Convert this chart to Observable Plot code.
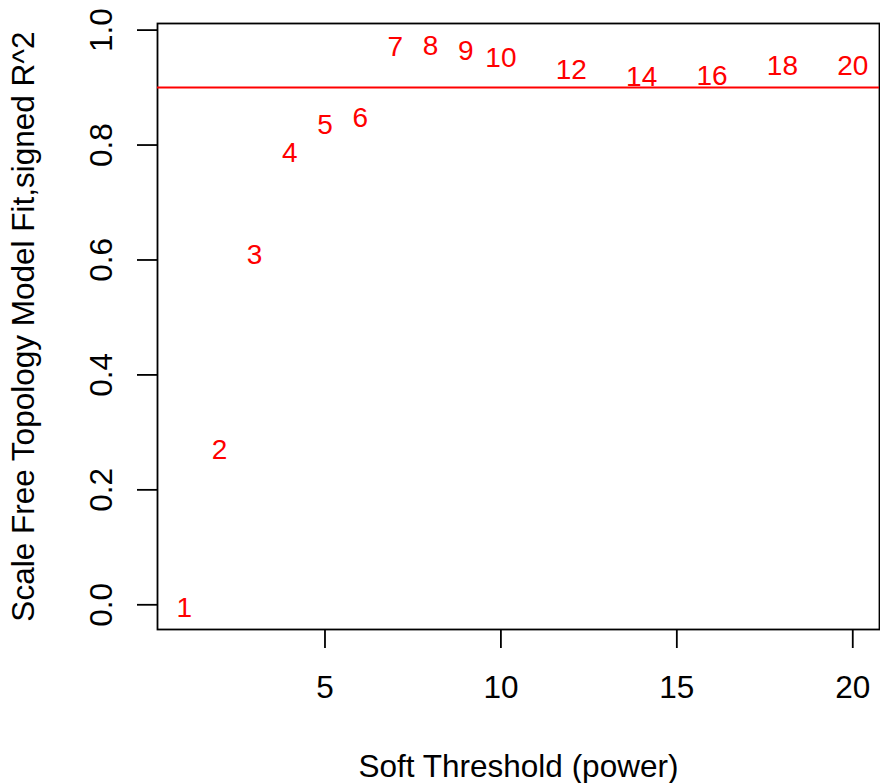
<!DOCTYPE html>
<html>
<head>
<meta charset="utf-8">
<script src="https://cdn.jsdelivr.net/npm/d3@7"></script>
<script src="https://cdn.jsdelivr.net/npm/@observablehq/plot@0.6"></script>
<style>
  html, body { margin: 0; padding: 0; background: #fff; }
  #chart svg { display: block; }
</style>
</head>
<body>
<div id="chart"></div>
<script>
// Soft-threshold powers and the signed scale-free topology fit (R^2)
const powers = [1, 2, 3, 4, 5, 6, 7, 8, 9, 10, 12, 14, 16, 18, 20];
const fitR2 = [-0.006, 0.270, 0.609, 0.786, 0.834, 0.847, 0.970, 0.972, 0.964, 0.951, 0.930, 0.919, 0.920, 0.937, 0.937];
const cutoff = [0.9];
const xTicks = [5, 10, 15, 20];
const yTicks = [0, 0.2, 0.4, 0.6, 0.8, 1.0];
const yTickLabels = ["0.0", "0.2", "0.4", "0.6", "0.8", "1.0"];
const xTitle = "Soft Threshold (power)";
const yTitle = "Scale Free Topology Model Fit,signed R^2";

const data = powers.map((p, i) => ({power: p, r2: fitR2[i]}));
const yTickData = yTicks.map((v, i) => ({v, label: yTickLabels[i]}));

const FONT = "'Liberation Sans', Arial, Helvetica, sans-serif";
const AXIS_FS = 31.5;

const chart = Plot.plot({
  width: 880,
  height: 783,
  marginLeft: 157,
  marginRight: 1,
  marginTop: 23,
  marginBottom: 154,
  style: {fontFamily: FONT, background: "#fff"},
  x: {domain: [0.24, 20.76], axis: null},
  y: {domain: [-0.043, 1.0115], axis: null},
  marks: [
    Plot.frame({stroke: "#000", strokeWidth: 1.8}),
    Plot.ruleY(cutoff, {stroke: "#ff0000", strokeWidth: 2}),
    Plot.text(data, {
      x: "power", y: "r2", text: d => String(d.power),
      fill: "#ff0000", fontSize: 28, lineAnchor: "middle", textAnchor: "middle"
    }),
    Plot.axisX({
      ticks: xTicks, tickSize: 19, tickPadding: 27, tickFormat: d => String(d),
      fontSize: AXIS_FS, label: null, stroke: "#000", strokeWidth: 1.8, fill: "#000"
    }),
    Plot.axisY({
      ticks: yTicks, tickSize: 20, tickFormat: () => "",
      label: null, stroke: "#000", strokeWidth: 1.8
    }),
    Plot.text(yTickData, {
      y: "v", text: "label", frameAnchor: "left", dx: -56, rotate: -90,
      lineAnchor: "middle", textAnchor: "middle", fontSize: AXIS_FS, fill: "#000"
    }),
    Plot.text([xTitle], {
      text: d => d, frameAnchor: "bottom", dy: 147, lineAnchor: "bottom",
      textAnchor: "middle", fontSize: AXIS_FS, fill: "#000"
    }),
    Plot.text([yTitle], {
      text: d => d, frameAnchor: "left", dx: -124, rotate: -90, lineAnchor: "bottom",
      textAnchor: "middle", fontSize: AXIS_FS, fill: "#000"
    })
  ]
});
document.getElementById("chart").appendChild(chart);
</script>
</body>
</html>
